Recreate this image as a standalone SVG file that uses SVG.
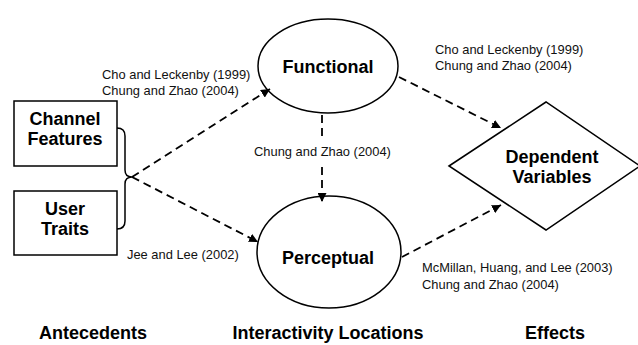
<svg xmlns="http://www.w3.org/2000/svg" width="638" height="345" viewBox="0 0 638 345">
<style>
.box{fill:#fff;stroke:#000;stroke-width:1.5}
.shape{fill:#fff;stroke:#000;stroke-width:1.5}
.bold{font-family:"Liberation Sans",Arial,sans-serif;font-weight:bold;font-size:18px;fill:#000;text-anchor:middle}
.cite{font-family:"Liberation Sans",Arial,sans-serif;font-size:12.9px;fill:#111}
.conn{fill:none;stroke:#000;stroke-width:1.8;stroke-dasharray:8 5}
</style>
<defs>
<marker id="ah" viewBox="0 0 10 10" refX="10" refY="5" markerWidth="9" markerHeight="9" markerUnits="userSpaceOnUse" orient="auto">
<path d="M0,0 L10,5 L0,10 Z" fill="#000"/>
</marker>
</defs>
<rect width="638" height="345" fill="#fff"/>
<g id="channel-features">
<rect class="box" x="14" y="101" width="103" height="65"/>
<text class="bold" x="65" y="125">Channel</text>
<text class="bold" x="65" y="145">Features</text>
</g>
<g id="user-traits">
<rect class="box" x="14" y="191" width="103" height="64"/>
<text class="bold" x="65" y="215">User</text>
<text class="bold" x="65" y="235">Traits</text>
</g>
<g id="brace">
<path d="M117,128 Q125,128 125,136 L125,170 Q125,177 132,177 Q125,177 125,184 L125,221 Q125,229 117,229" fill="none" stroke="#000" stroke-width="1.5"/>
</g>
<g id="functional">
<ellipse class="shape" cx="328" cy="66" rx="70" ry="47"/>
<text class="bold" x="328" y="73">Functional</text>
</g>
<g id="perceptual">
<ellipse class="shape" cx="329" cy="252" rx="72" ry="56"/>
<text class="bold" x="328" y="264">Perceptual</text>
</g>
<g id="dependent-variables">
<polygon class="shape" points="449,166 546,102 640,166 546,230"/>
<text class="bold" x="552" y="163">Dependent</text>
<text class="bold" x="552" y="183">Variables</text>
</g>
<g id="connectors">
<line class="conn" x1="132" y1="177" x2="270" y2="89" marker-end="url(#ah)"/>
<line class="conn" x1="132" y1="177" x2="258" y2="242" marker-end="url(#ah)"/>
<line class="conn" x1="322" y1="115" x2="322" y2="202" marker-end="url(#ah)"/>
<line class="conn" x1="399" y1="77" x2="501" y2="128" marker-end="url(#ah)"/>
<line class="conn" x1="402" y1="257" x2="501" y2="205" marker-end="url(#ah)"/>
</g>
<g id="labels">
<text class="cite" x="102" y="79">Cho and Leckenby (1999)</text>
<text class="cite" x="102" y="95">Chung and Zhao (2004)</text>
<rect x="251" y="140" width="142" height="23" fill="#fff"/>
<text class="cite" x="254" y="156">Chung and Zhao (2004)</text>
<text class="cite" x="127" y="259">Jee and Lee (2002)</text>
<text class="cite" x="435" y="54">Cho and Leckenby (1999)</text>
<text class="cite" x="435" y="70">Chung and Zhao (2004)</text>
<text class="cite" x="422" y="272">McMillan, Huang, and Lee (2003)</text>
<text class="cite" x="422" y="289">Chung and Zhao (2004)</text>
<text class="bold" x="93" y="339">Antecedents</text>
<text class="bold" x="328" y="339">Interactivity Locations</text>
<text class="bold" x="555" y="339">Effects</text>
</g>
</svg>
